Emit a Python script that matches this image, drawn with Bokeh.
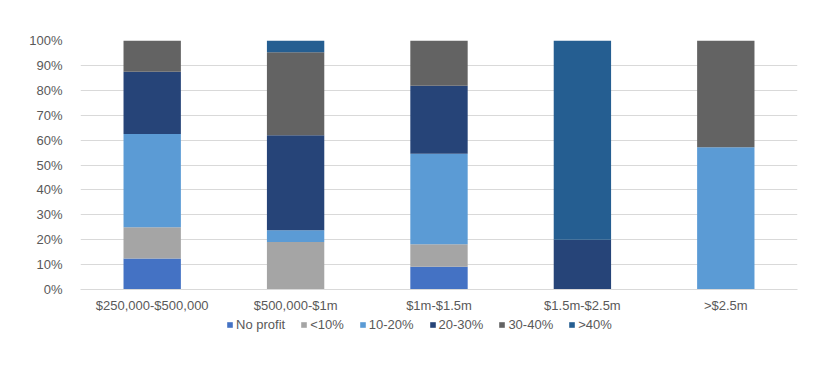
from bokeh.plotting import figure
from bokeh.layouts import column
from bokeh.models import Legend, LegendItem, FixedTicker, PrintfTickFormatter, ColumnDataSource, Range1d
from bokeh.embed import file_html
from bokeh.resources import INLINE

categories = ["$250,000-$500,000", "$500,000-$1m", "$1m-$1.5m", "$1.5m-$2.5m", ">$2.5m"]
series = ["No profit", "<10%", "10-20%", "20-30%", "30-40%", ">40%"]
no_profit = [12.5, 0, 9.09, 0, 0]
lt10 = [12.5, 19.05, 9.09, 0, 0]
p10_20 = [37.5, 4.76, 36.36, 0, 57.14]
p20_30 = [25.0, 38.1, 27.27, 20.0, 0]
p30_40 = [12.5, 33.33, 18.18, 0, 42.86]
gt40 = [0, 4.76, 0, 80.0, 0]
y_ticks = [0, 10, 20, 30, 40, 50, 60, 70, 80, 90, 100]

colors = ["#4472C4", "#A5A5A5", "#5B9BD5", "#264478", "#636363", "#255E91"]
keys = ["s0", "s1", "s2", "s3", "s4", "s5"]
src = ColumnDataSource(dict(cat=categories, s0=no_profit, s1=lt10, s2=p10_20,
                            s3=p20_30, s4=p30_40, s5=gt40))

p = figure(x_range=categories, y_range=(0, 100), frame_width=717, frame_height=249,
           output_backend="svg", toolbar_location=None,
           min_border_left=80, min_border_top=40, min_border_right=31, min_border_bottom=0)
p.outline_line_color = None
p.background_fill_color = "white"
p.border_fill_color = "white"

rs = p.vbar_stack(keys, x="cat", width=0.4, source=src, color=colors, line_color=None)

p.yaxis.ticker = FixedTicker(ticks=y_ticks)
p.yaxis.formatter = PrintfTickFormatter(format="%d%%")
p.yaxis.axis_line_color = None
p.yaxis.major_tick_line_color = None
p.yaxis.minor_tick_line_color = None
p.yaxis.major_label_text_font = "Liberation Sans"
p.yaxis.major_label_text_font_size = "13px"
p.yaxis.major_label_text_color = "#595959"
p.yaxis.major_label_standoff = 12

p.xaxis.axis_line_color = "#D9D9D9"
p.xaxis.major_tick_line_color = None
p.xaxis.minor_tick_line_color = None
p.xaxis.major_label_text_font = "Liberation Sans"
p.xaxis.major_label_text_font_size = "13px"
p.xaxis.major_label_text_color = "#595959"
p.xaxis.major_label_standoff = 2

p.xgrid.grid_line_color = None
p.ygrid.grid_line_color = "#D9D9D9"
p.ygrid.grid_line_width = 1

# legend strip below the chart (same stacked series, out of view, used only as legend sources)
p2 = figure(width=828, height=30, output_backend="svg", toolbar_location=None,
            x_range=p.x_range, y_range=Range1d(1000, 1001),
            min_border=0, min_border_left=0, min_border_right=0, min_border_top=0, min_border_bottom=0)
p2.axis.visible = False
p2.grid.visible = False
p2.outline_line_color = None
rs2 = p2.vbar_stack(keys, x="cat", width=0.4, source=src, color=colors, line_color=None)
items = [LegendItem(label=s, renderers=[r]) for s, r in zip(series, rs2)]
legend = Legend(items=items, orientation="horizontal", location=(146, 13),
                label_text_font="Liberation Sans", label_text_font_size="13px",
                label_text_color="#595959", glyph_width=7, glyph_height=7,
                label_standoff=3, spacing=15, padding=0, margin=0, label_height=14,
                border_line_color=None, background_fill_alpha=0)
p2.add_layout(legend, "center")

layout = column(p, p2, spacing=0)
open("out.html", "w").write(file_html(layout, INLINE))
